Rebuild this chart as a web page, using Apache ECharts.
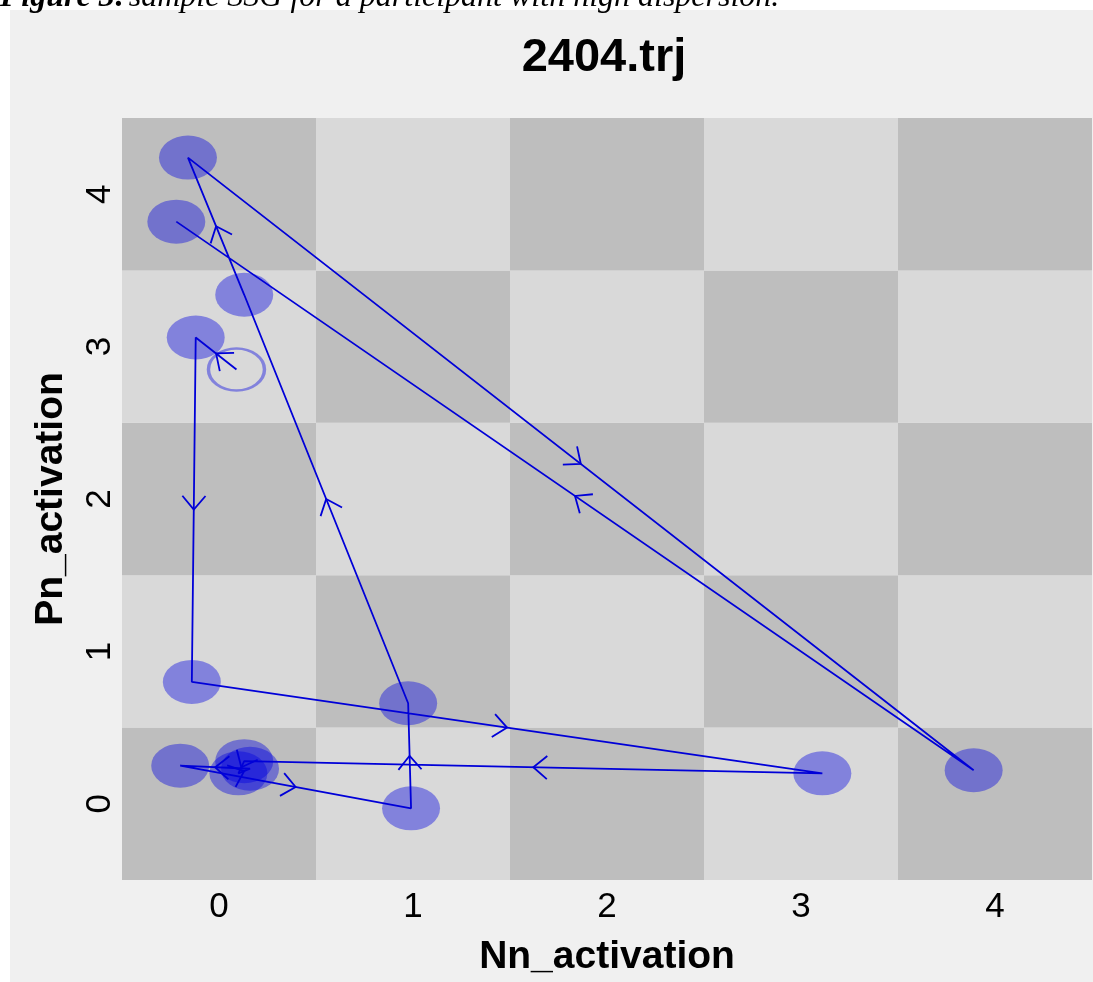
<!DOCTYPE html>
<html>
<head>
<meta charset="utf-8">
<title>2404.trj</title>
<script src="https://cdn.jsdelivr.net/npm/echarts@6.0.0/dist/echarts.min.js"></script>
<style>
  html, body { margin: 0; padding: 0; background: #fff; }
  #chart { width: 1093px; height: 982px; }
</style>
</head>
<body>
<div id="chart"></div>
<script>
// trajectory, in visiting order (Nn_activation, Pn_activation)
const trajX = [0.09, -0.12, -0.14, 3.11, 0.13, 0.10, 0.16, -0.20, 0.99, 0.975, 0.13, -0.16, 3.89, -0.22];
const trajY = [2.85, 3.06, 0.80, 0.20, 0.28, 0.20, 0.23, 0.25, -0.03, 0.66, 3.34, 4.24, 0.22, 3.82];
// first point is drawn as an open ring
const startIdx = 0;

// grid cells
const cellX = [0, 1, 2, 3, 4];
const cellY = [0, 1, 2, 3, 4];
const tickValues = [0, 1, 2, 3, 4];

const lineColor = '#0000d8';
const dotColor = 'rgba(0,0,225,0.5)';
const font = "'Liberation Sans', Arial, sans-serif";

// build series data
const cells = [];
cellX.forEach(x => cellY.forEach(y => cells.push([x, y, (x + y) % 2 === 0 ? 1 : 0])));

const pts = trajX.map((x, i) => [x, trajY[i]]);
const filled = pts.filter((p, i) => i !== startIdx);
const segs = [];
for (let i = 0; i < pts.length - 1; i++) {
    segs.push([pts[i][0], pts[i][1], pts[i + 1][0], pts[i + 1][1]]);
}

const chart = echarts.init(document.getElementById('chart'));

const option = {
    animation: false,
    backgroundColor: '#fff',
    graphic: [
        {
            type: 'rect', z: -10, silent: true,
            shape: { x: 10, y: 10, width: 1083, height: 972 },
            style: { fill: '#f0f0f0' }
        },
        {
            type: 'text', x: 0, y: -2, silent: true,
            style: {
                text: '{b|Figure 3:} {i|sample SSG for a participant with high dispersion.}',
                verticalAlign: 'middle',
                rich: {
                    b: { fontFamily: "'Liberation Serif', serif", fontSize: 32, fontWeight: 'bold', fontStyle: 'italic', fill: '#000' },
                    i: { fontFamily: "'Liberation Serif', serif", fontSize: 32, fontStyle: 'italic', fill: '#000' }
                }
            }
        },
        {
            type: 'text', x: 604, y: 58, silent: true,
            style: {
                text: '2404.trj', fontFamily: font, fontSize: 47, fontWeight: 'bold',
                fill: '#000', align: 'center', verticalAlign: 'middle'
            }
        }
    ],
    grid: { left: 122, right: 1, top: 118, bottom: 102 },
    xAxis: {
        type: 'value', min: -0.5, max: 4.5,
        name: 'Nn_activation', nameLocation: 'middle', nameGap: 58,
        nameTextStyle: { fontFamily: font, fontSize: 39, fontWeight: 'bold', color: '#000' },
        axisLine: { show: false }, axisTick: { show: false }, splitLine: { show: false },
        axisLabel: { customValues: tickValues, fontFamily: font, fontSize: 35, color: '#000', margin: 10 }
    },
    yAxis: {
        type: 'value', min: -0.5, max: 4.5,
        name: 'Pn_activation', nameLocation: 'middle', nameGap: 51,
        nameTextStyle: { fontFamily: font, fontSize: 39, fontWeight: 'bold', color: '#000' },
        axisLine: { show: false }, axisTick: { show: false }, splitLine: { show: false },
        axisLabel: { customValues: tickValues, rotate: 90, fontFamily: font, fontSize: 35, color: '#000', margin: 4 }
    },
    series: [
        {
            // checkerboard background
            type: 'custom', silent: true, z: 1,
            data: cells,
            renderItem(params, api) {
                const x = api.value(0), y = api.value(1);
                const a = api.coord([x - 0.5, y + 0.5]);
                const b = api.coord([x + 0.5, y - 0.5]);
                return {
                    type: 'rect',
                    shape: { x: a[0], y: a[1], width: b[0] - a[0], height: b[1] - a[1] },
                    style: { fill: api.value(2) ? '#bebebe' : '#d9d9d9' }
                };
            }
        },
        {
            type: 'scatter', z: 2, silent: true,
            data: filled,
            symbol: 'circle', symbolSize: [58, 44],
            itemStyle: { color: dotColor }
        },
        {
            type: 'scatter', z: 2, silent: true,
            data: [pts[startIdx]],
            symbol: 'circle', symbolSize: [56, 42],
            itemStyle: { color: 'transparent', borderColor: dotColor, borderWidth: 3 }
        },
        {
            type: 'line', z: 3, silent: true,
            data: pts,
            showSymbol: false, symbol: 'none',
            lineStyle: { color: lineColor, width: 1.8 }
        },
        {
            // arrow heads at segment midpoints
            type: 'custom', z: 4, silent: true,
            data: segs,
            encode: { x: [0, 2], y: [1, 3] },
            renderItem(params, api) {
                const a = api.coord([api.value(0), api.value(1)]);
                const b = api.coord([api.value(2), api.value(3)]);
                const mx = (a[0] + b[0]) / 2, my = (a[1] + b[1]) / 2;
                const ang = Math.atan2(b[1] - a[1], b[0] - a[0]);
                const L = 18, w = 40 * Math.PI / 180;
                return {
                    type: 'polyline',
                    shape: {
                        points: [
                            [mx - L * Math.cos(ang - w), my - L * Math.sin(ang - w)],
                            [mx, my],
                            [mx - L * Math.cos(ang + w), my - L * Math.sin(ang + w)]
                        ]
                    },
                    style: { stroke: lineColor, lineWidth: 1.8, fill: null }
                };
            }
        }
    ]
};

chart.setOption(option);
</script>
</body>
</html>
